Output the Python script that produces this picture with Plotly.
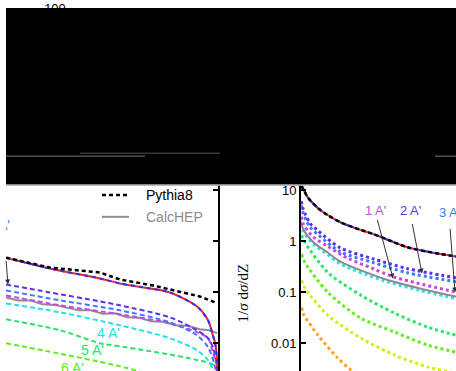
import plotly.graph_objects as go

W, H = 456, 371

# ---------------- data: left panel (x vs 1/sigma dsigma/dx) ----------------
xl_pythia = [0.30, 0.445, 0.610, 0.676, 0.785, 0.897, 0.940, 0.990]
yl_pythia = [0.473, 0.302, 0.242, 0.177, 0.135, 0.094, 0.082, 0.063]

xl_rb = [0.30, 0.445, 0.610, 0.676, 0.775, 0.841, 0.930, 0.967, 0.983, 0.990, 0.997, 0.9995]
yl_rb = [0.473, 0.289, 0.185, 0.148, 0.118, 0.0985, 0.0526, 0.028, 0.0143, 0.0104, 0.00467, 0.0005]

xl_2 = [0.30, 0.445, 0.610, 0.676, 0.841, 0.930, 0.967, 0.983, 0.997, 0.9995]
yl_2 = [0.141, 0.0985, 0.0658, 0.0551, 0.032, 0.0179, 0.0125, 0.00835, 0.0034, 0.0005]

xl_3 = [0.30, 0.478, 0.676, 0.841, 0.930, 0.967, 0.990, 0.999]
yl_3 = [0.108, 0.0689, 0.044, 0.0256, 0.0143, 0.00835, 0.0034, 0.0005]

xl_1 = [0.30, 0.478, 0.676, 0.841, 0.930, 0.967, 0.983, 0.997, 0.9995]
yl_1 = [0.086, 0.0551, 0.0367, 0.0245, 0.0164, 0.0125, 0.00667, 0.0034, 0.0005]

xl_calc = [0.30, 0.34, 0.38, 0.42, 0.46, 0.50, 0.54, 0.58, 0.62, 0.66,
           0.70, 0.74, 0.78, 0.82, 0.86, 0.90, 0.94, 0.97, 0.997]
yl_calc = [0.0787, 0.0688, 0.0688, 0.0575, 0.0562, 0.0503, 0.0439, 0.0439, 0.0375, 0.0384,
           0.0321, 0.0314, 0.0268, 0.0262, 0.0224, 0.0219, 0.0187, 0.0179, 0.0157]

xl_4 = [0.30, 0.478, 0.676, 0.841, 0.930, 0.967, 0.983, 0.993, 0.999]
yl_4 = [0.0601, 0.0402, 0.0224, 0.0125, 0.00729, 0.00467, 0.00298, 0.0015, 0.0005]

xl_5 = [0.30, 0.478, 0.610, 0.676, 0.930, 0.990, 0.997]
yl_5 = [0.0293, 0.0179, 0.0100, 0.0087, 0.0047, 0.0035, 0.001]

xl_6 = [0.30, 0.70, 0.80]
yl_6 = [0.0100, 0.00326, 0.0021]

# ---------------- data: right panel (Z vs 1/sigma dsigma/dZ) ----------------
zr_pythia = [0.002, 0.008, 0.023, 0.055, 0.087, 0.126, 0.18, 0.232, 0.29, 0.342, 0.42, 0.5]
yr_pythia = [12.0, 10.2, 7.0, 4.4, 3.2, 2.35, 1.75, 1.38, 1.0, 0.76, 0.6, 0.5]

zr_23 = [0.001, 0.0065, 0.03, 0.055, 0.126, 0.232, 0.342, 0.5]
yr_2 = [6.0, 4.27, 2.2, 1.59, 0.74, 0.45, 0.29, 0.19]
yr_3 = [5.0, 3.56, 1.85, 1.33, 0.62, 0.38, 0.24, 0.16]

zr_1 = [0.001, 0.0065, 0.04, 0.087, 0.151, 0.232, 0.297, 0.5]
yr_1 = [3.0, 2.18, 1.2, 0.78, 0.46, 0.29, 0.20, 0.10]

zr_c = [0.001, 0.0065, 0.04, 0.087, 0.126, 0.265, 0.384, 0.5]
yr_calc = [2.4, 1.74, 0.95, 0.59, 0.40, 0.185, 0.118, 0.082]
yr_4 = [2.2, 1.59, 0.87, 0.54, 0.36, 0.169, 0.108, 0.075]

zr_g = [0.002, 0.013, 0.087, 0.194, 0.303, 0.41, 0.5]
yr_5 = [1.3, 0.93, 0.242, 0.086, 0.0384, 0.0205, 0.0143]
yr_6 = [0.55, 0.378, 0.0985, 0.0307, 0.0164, 0.0091, 0.0067]
yr_7 = [0.17, 0.118, 0.0351, 0.0125, 0.0058, 0.0034, 0.0026]

zr_8 = [0.002, 0.0065, 0.055, 0.119, 0.161, 0.223]
yr_8 = [0.05, 0.0384, 0.0143, 0.0051, 0.0030, 0.0019]

tick_vals = [10, 1, 0.1, 0.01]
tick_text = ["10", "1", "0.1", "0.01"]

C1, C2, C3 = "#c844ec", "#5a32f0", "#3a7bff"
C4, C5, C6, C7, C8 = "#22e0ee", "#22e86a", "#5fee1a", "#cfee10", "#ffa020"
CG = "#8c8c8c"
RED, BLUE = "#ff2020", "#2233ff"


def px(x):
    return x / W


def py(y):
    return 1 - y / H


def lx(p):  # left-panel data x for a pixel column
    return 0.3 + (p - 6) / 212 * 0.7


fig = go.Figure()


def line(x, y, color, width, dash, ax="x", ay="y", shape="spline"):
    fig.add_trace(go.Scatter(x=x, y=y, mode="lines", xaxis=ax, yaxis=ay,
                             line=dict(color=color, width=width, dash=dash,
                                       shape=shape, smoothing=0.8),
                             hoverinfo="skip", showlegend=False))


# left panel
for xs, ys, c in [(xl_6, yl_6, C6), (xl_5, yl_5, C5), (xl_4, yl_4, C4)]:
    line(xs, ys, c, 2, "5px,3px")
line(xl_calc, yl_calc, CG, 2, "solid", shape="linear")
for xs, ys, c in [(xl_1, yl_1, C1), (xl_3, yl_3, C3), (xl_2, yl_2, C2)]:
    line(xs, ys, c, 2, "5px,3px")
line(xl_rb, yl_rb, RED, 2, "solid")
line(xl_rb, yl_rb, BLUE, 2, "4px,4px")
line(xl_pythia, yl_pythia, "black", 2.5, "4px,3px", shape="linear")

# right panel
for ys, c, zs in [(yr_8, C8, zr_8), (yr_7, C7, zr_g), (yr_6, C6, zr_g), (yr_5, C5, zr_g)]:
    line(zs, ys, c, 3, "3px,3px", "x2", "y2")
line(zr_c, yr_4, C4, 3, "3px,3px", "x2", "y2")
line(zr_c, yr_calc, CG, 2, "solid", "x2", "y2")
line(zr_1, yr_1, C1, 3, "3px,3px", "x2", "y2")
line(zr_23, yr_3, C3, 3, "3px,3px", "x2", "y2")
line(zr_23, yr_2, C2, 3, "3px,3px", "x2", "y2")
line(zr_pythia, yr_pythia, RED, 2, "solid", "x2", "y2")
line(zr_pythia, yr_pythia, BLUE, 2, "3px,3px", "x2", "y2")
line(zr_pythia, yr_pythia, "black", 2.5, "4px,3px", "x2", "y2")

# tick label of the hidden upper panel (mostly covered by the black block)
fig.add_trace(go.Scatter(x=[0.5], y=[0.62], mode="text", text=["100"], xaxis="x3", yaxis="y3",
                         textfont=dict(family="Arial", size=13, color="black"),
                         cliponaxis=False, hoverinfo="skip", showlegend=False))
# label clipped by the left panel edge
fig.add_trace(go.Scatter(x=[lx(10)], y=[10 ** (1 - (226 - 189) / 51.33)], mode="text",
                         text=["3 A'"], textposition="middle left",
                         textfont=dict(family="Arial", size=14, color=C3),
                         cliponaxis=True, hoverinfo="skip", showlegend=False))

ydom = [0, py(184)]
yrange = [-2.545, 1.097]

fig.update_layout(
    width=W, height=H, margin=dict(l=0, r=0, t=0, b=0),
    paper_bgcolor="white", plot_bgcolor="rgba(0,0,0,0)", showlegend=False,
    xaxis=dict(domain=[px(6), px(218)], range=[0.3, 1.0], visible=False),
    yaxis=dict(domain=ydom, type="log", range=yrange, anchor="x", side="right",
               showline=True, linecolor="black", linewidth=2, mirror=False,
               ticks="inside", ticklen=5, tickwidth=1.5, tickcolor="black",
               tickvals=tick_vals, showticklabels=False,
               showgrid=False, zeroline=False),
    xaxis2=dict(domain=[px(301), 1], range=[0, 0.5], visible=False, anchor="y2"),
    yaxis2=dict(domain=ydom, type="log", range=yrange, anchor="x2", side="left",
                showline=True, linecolor="black", linewidth=2,
                ticks="inside", ticklen=5, tickwidth=1.5, tickcolor="black",
                tickvals=tick_vals, ticktext=tick_text,
                tickfont=dict(family="Arial", size=13, color="black"),
                showgrid=False, zeroline=False),
    xaxis3=dict(domain=[px(35), px(75)], range=[0, 1], visible=False, anchor="y3"),
    yaxis3=dict(domain=[py(20), 1], range=[0, 1], visible=False, anchor="x3"),
)

# black block covering the upper row
fig.add_shape(type="rect", xref="paper", yref="paper", x0=px(6), x1=1.01,
              y0=py(183.5), y1=py(6), fillcolor="black", line=dict(width=0), layer="above")
fig.add_shape(type="line", xref="paper", yref="paper", x0=px(6), x1=1.01,
              y0=py(184.3), y1=py(184.3), line=dict(color="#aaaaaa", width=1), layer="above")
for x0, x1, y, c in [(6, 145, 155, "#777777"), (80, 220, 152, "#555555"), (435, 457, 155, "#777777")]:
    fig.add_shape(type="line", xref="paper", yref="paper", x0=px(x0), x1=px(x1),
                  y0=py(y), y1=py(y), line=dict(color=c, width=1), layer="above")

# manual legend
fig.add_shape(type="line", xref="paper", yref="paper", x0=px(102), x1=px(129),
              y0=py(194), y1=py(194), line=dict(color="black", width=2.5, dash="4px,3px"))
fig.add_shape(type="line", xref="paper", yref="paper", x0=px(102), x1=px(129),
              y0=py(216), y1=py(216), line=dict(color=CG, width=2))
for t, y, c in [("Pythia8", 194, "black"), ("CalcHEP", 216, CG)]:
    fig.add_annotation(text=t, xref="paper", yref="paper", x=px(144), y=py(y),
                       xanchor="left", yanchor="middle", showarrow=False,
                       font=dict(family="Arial", size=14, color=c))

# curve labels
for t, x, y, c in [("4 A'", 108, 333, C4), ("5 A'", 92, 350, C5), ("6 A'", 72, 368, C6),
                   ("1 A'", 375, 210, C1), ("2 A'", 410, 210, C2), ("3 A'", 449, 212, C3)]:
    fig.add_annotation(text=t, xref="paper", yref="paper", x=px(x), y=py(y),
                       xanchor="center", yanchor="middle", showarrow=False,
                       font=dict(family="Arial", size=14 if x < 230 else 13, color=c))

# arrows
for hx, hy, tx, ty in [(8, 284, 6, 259), (393, 278, 377, 218),
                       (422, 273, 412, 222), (458, 292, 450, 227)]:
    fig.add_annotation(text="", xref="paper", yref="paper", x=px(hx), y=py(hy),
                       ax=tx - hx, ay=ty - hy, showarrow=True, arrowhead=2,
                       arrowsize=1, arrowwidth=1, arrowcolor="#333333")

# y-axis title of the right panel
fig.add_annotation(text="1/<i>σ</i> d<i>σ</i>/dZ", xref="paper", yref="paper",
                   x=px(243), y=py(293), textangle=-90, showarrow=False,
                   xanchor="center", yanchor="middle",
                   font=dict(family="Liberation Serif", size=15, color="black"))

fig.write_html("out.html")
